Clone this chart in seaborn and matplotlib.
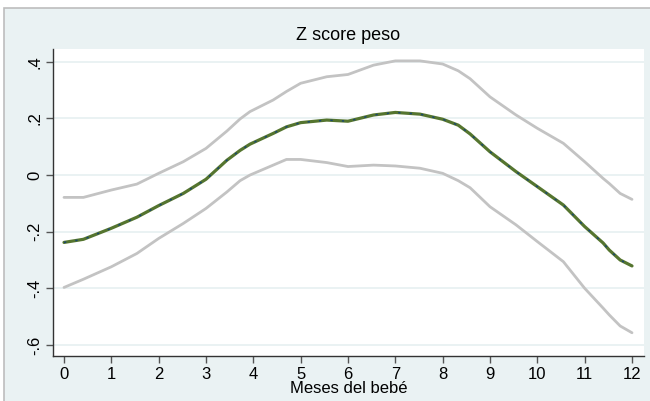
import matplotlib
matplotlib.use("Agg")
import matplotlib.pyplot as plt
import seaborn as sns
import pandas as pd
from matplotlib.patches import Rectangle

# Data
months = [0.0, 0.41, 1.0, 1.54, 2.0, 2.52, 3.0, 3.44, 3.72, 3.93, 4.42, 4.7, 5.0, 5.55, 6.0, 6.54,
          7.0, 7.52, 8.0, 8.33, 8.58, 9.0, 9.55, 10.0, 10.55, 11.0, 11.39, 11.52, 11.75, 12.0]
upper = [-0.079, -0.079, -0.053, -0.032, 0.006, 0.047, 0.094, 0.155, 0.198, 0.224, 0.265, 0.295,
         0.324, 0.347, 0.355, 0.388, 0.403, 0.403, 0.392, 0.368, 0.340, 0.276, 0.212, 0.165, 0.112,
         0.047, -0.012, -0.030, -0.065, -0.086]
center = [-0.238, -0.227, -0.188, -0.149, -0.108, -0.065, -0.015, 0.052, 0.087, 0.109, 0.147, 0.170,
          0.185, 0.194, 0.190, 0.212, 0.221, 0.215, 0.197, 0.176, 0.145, 0.082, 0.012, -0.041, -0.106,
          -0.182, -0.240, -0.265, -0.300, -0.321]
lower = [-0.397, -0.368, -0.324, -0.277, -0.224, -0.171, -0.118, -0.060, -0.020, 0.0, 0.035, 0.055,
         0.055, 0.044, 0.030, 0.035, 0.032, 0.024, 0.006, -0.020, -0.045, -0.112, -0.176, -0.235,
         -0.306, -0.400, -0.470, -0.494, -0.533, -0.557]
xticks = list(range(0, 13))
yticks = [0.4, 0.2, 0.0, -0.2, -0.4, -0.6]
ytick_labels = [".4", ".2", "0", "-.2", "-.4", "-.6"]
title = "Z score peso"
xlabel = "Meses del bebé"

sns.set_style("white")
plt.rcParams["font.family"] = ["Liberation Sans", "DejaVu Sans"]
plt.rcParams["text.color"] = "black"
plt.rcParams["xtick.labelcolor"] = "black"
plt.rcParams["ytick.labelcolor"] = "black"
plt.rcParams["axes.labelcolor"] = "black"

df = pd.DataFrame({"x": months, "upper": upper, "center": center, "lower": lower})

fig = plt.figure(figsize=(6.5, 4.01), dpi=100)
fig.patch.set_facecolor("white")
bg = Rectangle((4 / 650, -0.01), 1.01 - 4 / 650, 1.01 - 8 / 401, transform=fig.transFigure,
               facecolor="#EAF2F3", edgecolor="#BDBDBD", linewidth=1.2, zorder=-10)
fig.patches.append(bg)

ax = fig.add_axes([53.3 / 650, 1 - 355.7 / 401, (644.3 - 53.3) / 650, (355.7 - 49) / 401])
ax.set_zorder(1)
ax.set_facecolor("white")

for y in yticks:
    ax.axhline(y, color="#EAF2F3", lw=1.4, zorder=1)

gray = "#C3C3C3"
sns.lineplot(data=df, x="x", y="upper", ax=ax, color=gray, lw=2.0, zorder=3)
sns.lineplot(data=df, x="x", y="lower", ax=ax, color=gray, lw=2.0, zorder=3)
sns.lineplot(data=df, x="x", y="center", ax=ax, color="#55752F", lw=2.3, zorder=4)
sns.lineplot(data=df, x="x", y="center", ax=ax, color="#1A476F", lw=1.1, zorder=5,
             linestyle=(0, (1.5, 6)))

ax.set_xlim(-0.226, 12.26)
ax.set_ylim(-0.638, 0.445)
ax.set_xticks(xticks)
ax.set_xticklabels([str(t) for t in xticks], fontsize=12)
ax.set_yticks(yticks)
ax.set_yticklabels(ytick_labels, fontsize=12, rotation=90, va="center")
ax.tick_params(axis="both", direction="out", length=5, width=1, color="#555555",
               pad=3, left=True, bottom=True)

for s in ["top", "right"]:
    ax.spines[s].set_visible(False)
for s in ["left", "bottom"]:
    ax.spines[s].set_color("#333333")
    ax.spines[s].set_linewidth(1.0)

ax.set_xlabel(xlabel, fontsize=12)
ax.xaxis.set_label_coords(0.5 + (349 - 348.8) / 591, (355.7 - 381) / 306.7)
ax.set_ylabel("")
fig.text(348 / 650, 1 - 36 / 401, title, fontsize=13, ha="center", va="center")

fig.savefig("out.png", dpi=100, facecolor=fig.get_facecolor())
